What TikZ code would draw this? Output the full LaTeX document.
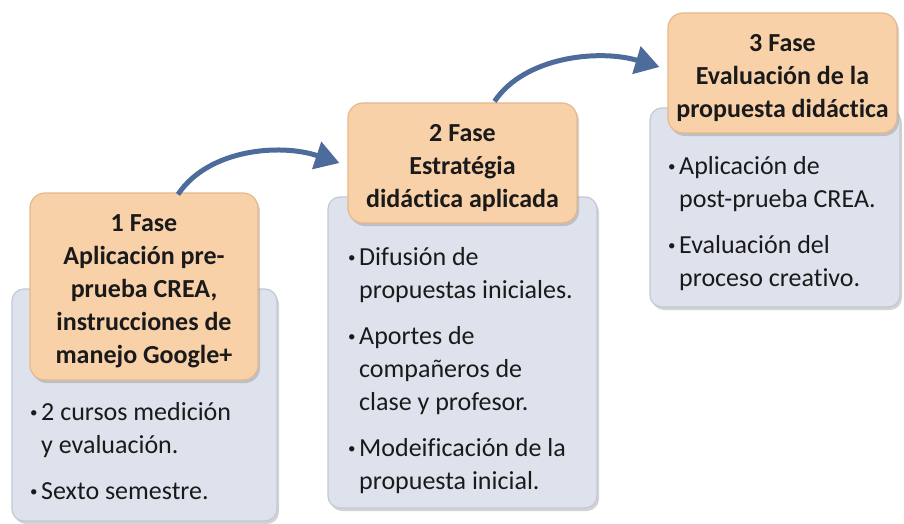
\documentclass[tikz,border=0pt]{standalone}
\usepackage{fontspec}
\setmainfont{Carlito}[Ligatures=NoCommon]
\usetikzlibrary{shadows,arrows.meta,calc}
\definecolor{hdrfill}{HTML}{F8D1A9}
\definecolor{hdredge}{HTML}{E6B88C}
\definecolor{boxfill}{HTML}{DEE2EC}
\definecolor{boxedge}{HTML}{C3C8D4}
\definecolor{arrowblue}{HTML}{4D6C9C}
\definecolor{txt}{HTML}{1A1A1A}
\newcommand{\bul}{\makebox[12pt][l]{\hspace*{1pt}\fontsize{15}{15}\selectfont\raisebox{3pt}{•}}}
\newcommand{\ind}{\hspace*{12pt}}
\newcommand{\hstrut}{\rule{0pt}{27pt}}
\begin{document}
\begin{tikzpicture}[x=1pt,y=-1pt,
  panel/.style={draw=boxedge,line width=1.2pt,fill=boxfill,rounded corners=12pt,
    drop shadow={shadow xshift=2pt,shadow yshift=-3pt,opacity=.35},inner sep=0pt},
  header/.style={draw=hdredge,line width=1.2pt,fill=hdrfill,rounded corners=15pt,
    drop shadow={shadow xshift=2pt,shadow yshift=-3pt,opacity=.35},inner sep=0pt,
    text=txt,align=center,font=\bfseries\fontsize{26}{33}\selectfont},
  body/.style={text=txt,align=left,anchor=north west,inner sep=0pt,
    font=\fontsize{26}{33}\selectfont},
  flow/.style={arrowblue,line width=5pt,-{Triangle[length=24pt,width=28pt]}}]
\useasboundingbox (0,0) rectangle (904,524);
% panels
\node[panel,minimum width=265pt,minimum height=232pt] (p1) at (144.5,405) {};
\node[panel,minimum width=269pt,minimum height=311pt] (p2) at (462.5,352.5) {};
\node[panel,minimum width=250pt,minimum height=199pt] (p3) at (775,207.5) {};
% headers
\node[header,minimum width=228pt,minimum height=187pt] (h1) at (144,286.5)
  {\hstrut 1 Fase\\Aplicación pre-\\prueba CREA,\\instrucciones de\\manejo Google+};
\node[header,minimum width=229pt,minimum height=120pt] (h2) at (462.5,163)
  {\hstrut 2 Fase\\Estratégia\\didáctica aplicada};
\node[header,minimum width=229pt,minimum height=120pt] (h3) at (782.5,73)
  {\hstrut 3 Fase\\Evaluación de la\\propuesta didáctica};
% bodies
\node[body] (b1) at (29,402) {%
  \bul 2 cursos medición\\
  \ind y evaluación.\\[13pt]
  \bul Sexto semestre.};
\node[body] (b2) at (347,247) {%
  \bul Difusión de\\
  \ind propuestas iniciales.\\[13pt]
  \bul Aportes de\\
  \ind compañeros de\\
  \ind clase y profesor.\\[13pt]
  \bul Modeificación de la\\
  \ind propuesta inicial.};
\node[body] (b3) at (667,156) {%
  \bul Aplicación de\\
  \ind post-prueba CREA.\\[13pt]
  \bul Evaluación del\\
  \ind proceso creativo.};
% arrows
\coordinate (a1s) at ($(h1.north)+(34,2)$);
\coordinate (a1e) at ($(h2.west)+(-8,0)$);
\draw[flow] (a1s) .. controls ($(a1s)+(30,-45)$) and ($(a1e)+(-60,-20)$) .. (a1e);
\coordinate (a2s) at ($(h2.north)+(32,-1)$);
\coordinate (a2e) at ($(h3.west)+(-8,-6)$);
\draw[flow] (a2s) .. controls ($(a2s)+(30,-45)$) and ($(a2e)+(-60,-18)$) .. (a2e);
\end{tikzpicture}
\end{document}
